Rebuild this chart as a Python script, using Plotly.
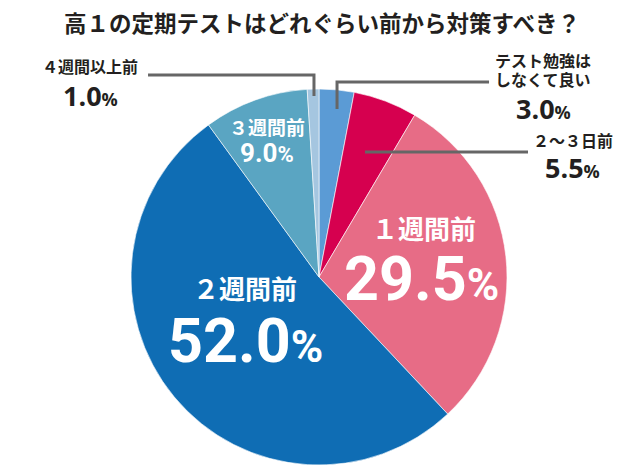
import plotly.graph_objects as go

# data
labels = ["テスト勉強はしなくて良い", "２～３日前", "１週間前", "２週間前", "３週間前", "４週間以上前"]
values = [3.0, 5.5, 29.5, 52.0, 9.0, 1.0]
colors = ["#5b9bd5", "#d6004f", "#e76c86", "#0f6db4", "#5aa5c2", "#a5c6e0"]
title = "高１の定期テストはどれぐらい前から対策すべき？"

W, H = 640, 474
DARK = "#231f20"
NUM_FONT = "Roboto"
JP_FONT = "Noto Sans CJK JP"


def px(x, y):
    # pixel position -> paper coords
    return x / W, 1 - y / H


def pct(v, psize):
    return f"{v:.1f}<span style='font-size:{psize}px'>%</span>"


fig = go.Figure(go.Pie(
    labels=labels,
    values=values,
    marker=dict(colors=colors, line=dict(color="white", width=0.6)),
    sort=False,
    direction="clockwise",
    rotation=0,
    textinfo="none",
    hoverinfo="label+percent",
    showlegend=False,
    domain=dict(x=[131 / W, 507 / W], y=[1 - 465 / H, 1 - 89 / H]),
))

anns = []


def add(text, x, y, size, color=DARK, family=JP_FONT, weight=700):
    ax, ay = px(x, y)
    anns.append(dict(text=text, x=ax, y=ay, xref="paper", yref="paper",
                     showarrow=False, xanchor="center", yanchor="middle",
                     font=dict(size=size, color=color, family=family, weight=weight)))


add(title, 322, 22, 22.5)

# outside labels
add(labels[5], 90, 66, 16)
add(pct(values[5], 18), 90, 95, 27, family="Open Sans")
add("テスト勉強は", 543, 60, 16)
add("しなくて良い", 543, 79, 16)
add(pct(values[0], 18), 543, 108, 27, family="Open Sans")
add(labels[1], 573, 140, 16)
add(pct(values[1], 18), 572, 167, 27, family="Open Sans")

# inside labels
add(labels[2], 424, 227, 26, color="white")
add(pct(values[2], 44), 421, 279, 61, color="white", family=NUM_FONT)
add(labels[3], 245, 287, 26, color="white")
add(pct(values[3], 44), 245, 341, 61, color="white", family=NUM_FONT)
add(labels[4], 267, 127, 19, color="white")
add(pct(values[4], 22), 267, 153, 26, color="white", family=NUM_FONT)

# leader lines
def path(points):
    pts = [px(x, y) for x, y in points]
    return "M " + " L ".join(f"{a:.4f},{b:.4f}" for a, b in pts)


shapes = []
for pts in ([(148, 75), (314, 75), (314, 96)],
            [(337, 109), (337, 82), (489, 82)],
            [(365, 152), (528, 152)]):
    shapes.append(dict(type="path", path=path(pts), xref="paper", yref="paper",
                       line=dict(color="#666666", width=3)))

fig.update_layout(
    width=W, height=H,
    margin=dict(l=0, r=0, t=0, b=0),
    paper_bgcolor="white",
    plot_bgcolor="white",
    annotations=anns,
    shapes=shapes,
)

fig.write_html("out.html", config={"displayModeBar": False},
               post_script="document.body.style.margin='0';")
